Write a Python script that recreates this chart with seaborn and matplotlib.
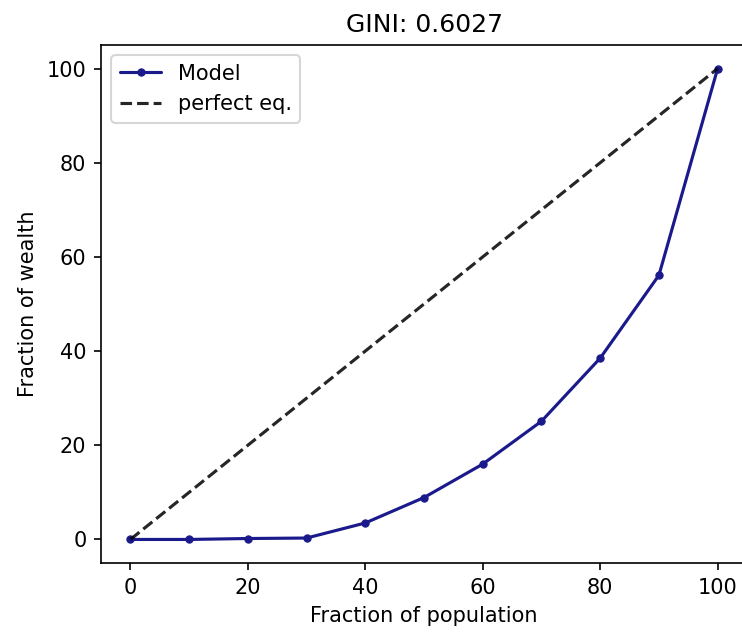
import matplotlib
matplotlib.use("Agg")
import matplotlib.pyplot as plt
import seaborn as sns
import pandas as pd

population = [0, 10, 20, 30, 40, 50, 60, 70, 80, 90, 100]
wealth = [0.0, 0.0, 0.2, 0.3, 3.5, 8.9, 16.0, 25.1, 38.5, 56.1, 100.0]
equality = [0, 100]
title = "GINI: 0.6027"

sns.set_style("ticks")
plt.rcParams['font.family'] = ['DejaVu Sans']
plt.rcParams['text.color'] = 'black'
plt.rcParams['axes.labelcolor'] = 'black'
plt.rcParams['xtick.color'] = 'black'
plt.rcParams['ytick.color'] = 'black'
plt.rcParams['axes.edgecolor'] = 'black'

W, H = 742, 633
fig = plt.figure(figsize=(W / 150, H / 150), dpi=150)
ax = fig.add_axes([101 / W, 1 - 563 / H, 646 / W, (563 - 45) / H])

line_color = "#1a1a8c"
df = pd.DataFrame({"pop": population, "wealth": wealth})
sns.lineplot(data=df, x="pop", y="wealth", ax=ax, color=line_color, marker="o",
             markersize=3.5, markeredgecolor=line_color, markeredgewidth=0.5,
             linewidth=1.5, label="Model")
sns.lineplot(x=equality, y=equality, ax=ax, color="black", alpha=0.85,
             linestyle="--", linewidth=1.5, label="perfect eq.")

ax.set_xlim(-5, 105)
ax.set_ylim(-5, 105)
ax.set_xticks([0, 20, 40, 60, 80, 100])
ax.set_yticks([0, 20, 40, 60, 80, 100])
ax.tick_params(labelsize=10, width=0.8, length=3.5)
for s in ax.spines.values():
    s.set_linewidth(0.8)
ax.set_xlabel("Fraction of population", fontsize=10)
ax.set_ylabel("Fraction of wealth", fontsize=10)
ax.set_title(title, fontsize=12)
ax.legend(loc="upper left", fontsize=10)

fig.savefig("out.png", dpi=150)
